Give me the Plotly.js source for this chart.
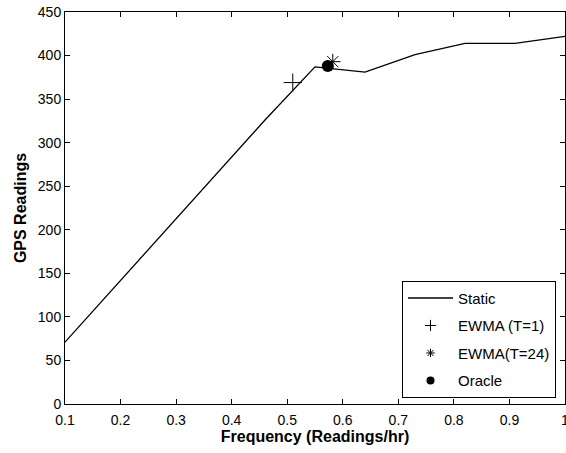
<!DOCTYPE html>
<html>
<head>
<script src="https://cdn.plot.ly/plotly-3.0.1.min.js"></script>
<style>html,body{margin:0;padding:0;background:#fff}#chart{width:566px;height:453px}</style>
</head>
<body>
<div id="chart"></div>
<script>
const staticX = [0.1, 0.19, 0.28, 0.37, 0.46, 0.55, 0.64, 0.73, 0.82, 0.91, 1.0];
const staticY = [71, 135, 199, 263, 326, 387, 381, 401, 414, 414, 422];
const ewma1X = [0.51];
const ewma1Y = [369];
const ewma24X = [0.582];
const ewma24Y = [393];
const oracleX = [0.573];
const oracleY = [388];
const xTicks = [0.1, 0.2, 0.3, 0.4, 0.5, 0.6, 0.7, 0.8, 0.9, 1];
const xTickLabels = ['0.1','0.2','0.3','0.4','0.5','0.6','0.7','0.8','0.9','1'];
const yTicks = [0, 50, 100, 150, 200, 250, 300, 350, 400, 450];

const font = 'Liberation Sans, Arial, sans-serif';
const plusMarker = {symbol: 'cross-thin-open', color: '#000', line: {width: 1, color: '#000'}};
const starMarker = {symbol: 'asterisk-open', color: '#000', line: {width: 1, color: '#000'}};
const dotMarker = {symbol: 'circle', color: '#000'};
const traces = [
  {x: staticX, y: staticY, mode: 'lines', name: 'Static', legendgroup: 'a', line: {color: '#000', width: 1.3}},
  {x: ewma1X, y: ewma1Y, mode: 'markers', name: 'EWMA (T=1)', showlegend: false,
   marker: Object.assign({size: 13}, plusMarker)},
  {x: ewma24X, y: ewma24Y, mode: 'markers', name: 'EWMA(T=24)', showlegend: false,
   marker: Object.assign({size: 13}, starMarker)},
  {x: oracleX, y: oracleY, mode: 'markers', name: 'Oracle', showlegend: false,
   marker: Object.assign({size: 12}, dotMarker)},
  {x: [null], y: [null], mode: 'markers', name: 'EWMA (T=1)', legendgroup: 'b',
   marker: Object.assign({size: 8}, plusMarker)},
  {x: [null], y: [null], mode: 'markers', name: 'EWMA(T=24)', legendgroup: 'c',
   marker: Object.assign({size: 7}, starMarker)},
  {x: [null], y: [null], mode: 'markers', name: 'Oracle', legendgroup: 'd',
   marker: Object.assign({size: 8}, dotMarker)}
];
const axisCommon = {
  showline: true, linecolor: '#000', linewidth: 1, mirror: 'ticks',
  ticks: 'inside', ticklen: 5, tickcolor: '#000', showgrid: false, zeroline: false,
  tickfont: {family: font, size: 14, color: '#000'}, ticklabeloverflow: 'allow'
};
const layout = {
  width: 566, height: 453,
  margin: {l: 65, r: 1, t: 12, b: 49},
  paper_bgcolor: '#fff', plot_bgcolor: '#fff',
  showlegend: true,
  legend: {x: 0.982, y: 0.016, xanchor: 'right', yanchor: 'bottom',
    bordercolor: '#000', borderwidth: 1, bgcolor: '#fff', itemwidth: 45, entrywidth: 158,
    font: {family: font, size: 15, color: '#000'}, tracegroupgap: 5},
  xaxis: Object.assign({}, axisCommon, {
    range: [0.1, 1], tickvals: xTicks, ticktext: xTickLabels, ticklabelstandoff: 3,
    title: {text: '<b>Frequency (Readings/hr)</b>', font: {family: font, size: 16, color: '#000'}, standoff: 3}
  }),
  yaxis: Object.assign({}, axisCommon, {
    range: [0, 450], tickvals: yTicks,
    title: {text: '<b>GPS Readings</b>', font: {family: font, size: 16, color: '#000'}, standoff: 7}
  })
};
Plotly.newPlot('chart', traces, layout, {displayModeBar: false, staticPlot: true});
</script>
</body>
</html>
